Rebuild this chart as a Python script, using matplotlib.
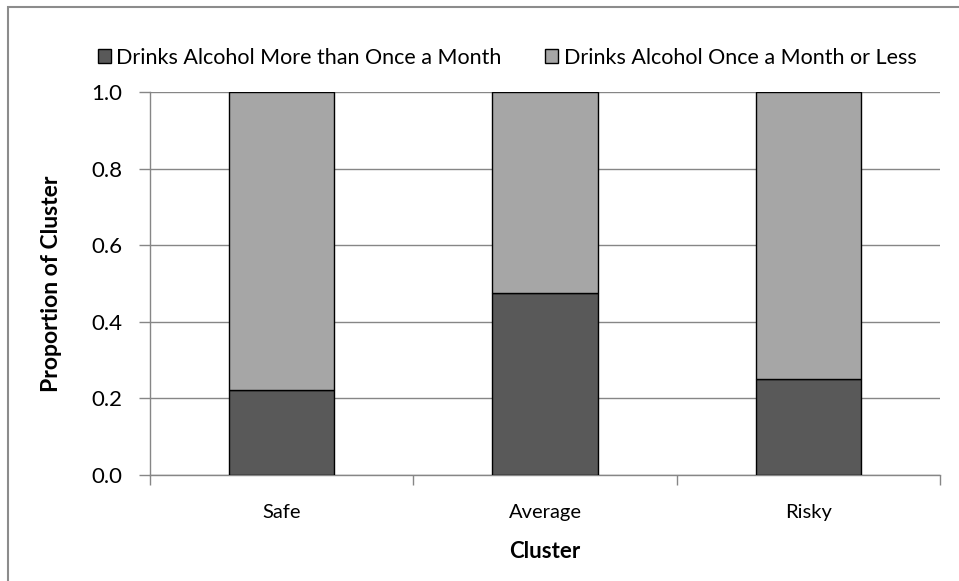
import matplotlib.pyplot as plt
import matplotlib.patches as mpatches
import numpy as np

plt.rcParams["font.family"] = ["Lato", "DejaVu Sans"]

# proportion of each cluster by drinking frequency
clusters = ["Safe", "Average", "Risky"]
more_than_monthly = [0.222, 0.475, 0.25]
monthly_or_less = [0.778, 0.525, 0.75]

series_labels = [
    "Drinks Alcohol More than Once a Month",
    "Drinks Alcohol Once a Month or Less",
]

DARK = "#595959"
LIGHT = "#a6a6a6"
GRID = "#868686"

fig = plt.figure(figsize=(9.59, 5.81), dpi=100)
ax = fig.add_axes([150 / 959, 106 / 581, 790 / 959, 383 / 581])

x = np.arange(len(clusters))
width = 0.4
ax.bar(x, more_than_monthly, width, color=DARK, edgecolor="black",
       linewidth=1.0, label=series_labels[0], zorder=3)
ax.bar(x, monthly_or_less, width, bottom=more_than_monthly, color=LIGHT,
       edgecolor="black", linewidth=1.0, label=series_labels[1], zorder=3)

ax.set_xlim(-0.5, len(clusters) - 0.5)
ax.set_ylim(0, 1.0)
yticks = np.arange(0, 1.01, 0.2)
ax.set_yticks(yticks)
ax.set_yticklabels([f"{v:.1f}" for v in yticks], fontsize=16)
ax.yaxis.grid(True, color=GRID, linewidth=1.0, zorder=0)

# categories sit between boundary ticks
ax.set_xticks(np.arange(-0.5, len(clusters), 1.0))
ax.set_xticklabels([])
ax.set_xticks(x, minor=True)
ax.set_xticklabels(clusters, minor=True, fontsize=14.5)
ax.tick_params(axis="x", which="minor", length=0, pad=21)
ax.tick_params(axis="x", which="major", length=7, color=GRID, width=1.0)
ax.tick_params(axis="y", length=8, color=GRID, width=1.0, pad=12)

for side in ["top", "right"]:
    ax.spines[side].set_visible(False)
for side in ["left", "bottom"]:
    ax.spines[side].set_color(GRID)
    ax.spines[side].set_linewidth(1.0)

ax.set_xlabel("Cluster", fontsize=16, fontweight="bold")
ax.xaxis.set_label_coords(0.5, -0.172)
ax.set_ylabel("Proportion of Cluster", fontsize=16.5, fontweight="bold")
ax.yaxis.set_label_coords(-0.112, 0.5)

ax.legend(loc="center", bbox_to_anchor=(507 / 959, 523 / 581),
          bbox_transform=fig.transFigure, ncol=2, frameon=False,
          fontsize=15.5, handlelength=0.62, handleheight=0.62,
          handletextpad=0.25, columnspacing=2.0)

# chart area border
fig.patches.append(mpatches.Rectangle(
    (8 / 959, -0.1), 1.2, (574 / 581) + 0.1, transform=fig.transFigure,
    fill=False, edgecolor="#8c8c8c", linewidth=1.5))

fig.savefig("out.png", dpi=100)
